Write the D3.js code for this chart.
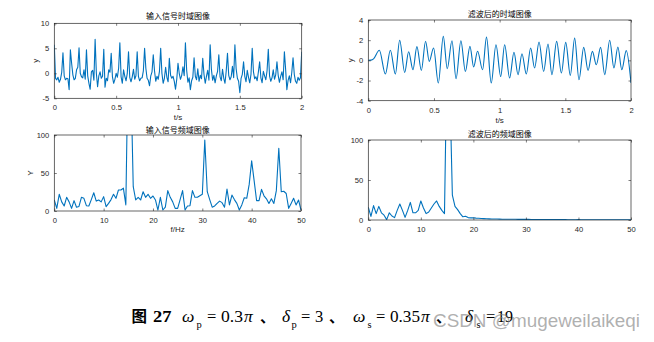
<!DOCTYPE html>
<html>
<head>
<meta charset="utf-8">
<script src="https://cdn.jsdelivr.net/npm/d3@7"></script>
<style>
  html, body { margin: 0; padding: 0; background: #fff; }
  svg { display: block; }
</style>
</head>
<body>
<svg id="fig" width="654" height="342"></svg>
<script>
// ---- data -----------------------------------------------------------------
// input signal, sampled at 100 Hz over 0..2 s (201 samples)
const inputSignal = [
  5.7, -1.0, -1.3, -0.8, -1.8, -1.2, 0.2, 4.1, -0.5, -1.3,
  -1.0, -1.1, -3.3, 4.7, 2.0, -0.3, -1.3, -1.0, 0.7, 1.2,
  5.1, 0.0, -0.7, -0.9, 0.7, -1.2, 4.7, -0.5, -2.0, -3.2,
  0.3, 0.6, -1.4, 6.8, 0.0, -2.7, -0.5, 0.3, -1.0, -0.6,
  4.8, -2.8, -1.0, -1.5, 0.7, 0.2, 4.0, -0.7, -2.0, -1.2,
  0.0, -0.8, 1.0, 6.1, -0.7, -2.0, 0.7, -0.6, -1.5, 0.0,
  4.3, -0.8, -1.7, -0.7, 0.8, -1.2, -0.5, 4.3, -0.6, -1.5,
  -1.0, -0.9, 0.5, 5.0, 1.0, -1.0, -1.4, -2.5, -0.5, 0.3,
  3.7, 0.5, -1.6, -0.6, -1.2, 0.4, 5.0, 0.0, -2.0, -1.0,
  1.2, -0.8, -1.7, 3.0, -0.4, -1.0, -0.6, -1.6, -3.2, -1.2,
  2.0, 0.0, -1.2, -0.4, 1.3, -0.5, 6.1, 0.6, -1.8, -0.9,
  -3.3, -1.5, -0.8, 3.1, -0.6, -1.3, 0.9, -1.6, -0.4, -1.1,
  3.0, -0.2, -2.0, -0.6, 0.6, -1.4, 5.7, 0.8, -1.4, -0.4,
  -1.9, -0.5, 0.4, 3.7, -0.7, -1.5, 0.8, -1.0, -2.0, 0.5,
  4.0, -0.4, -1.3, -0.7, 1.4, -0.9, 5.7, 0.9, -1.0, -1.6,
  -3.9, -1.0, -0.2, 2.3, -0.6, -1.7, 0.6, -0.8, -1.9, -0.2,
  5.0, 0.3, -1.1, -0.7, -1.5, 0.3, 2.3, -0.9, -1.9, 0.4,
  -0.5, -1.3, 0.5, 4.8, -0.5, -1.6, -0.9, 0.7, -1.2, -0.3,
  2.3, -0.4, -1.8, -0.6, 0.3, -1.3, 4.3, 0.8, -3.3, -1.4,
  -0.5, -1.9, 0.2, 3.1, -0.2, -1.6, -2.0, -0.8, -1.4, -0.9,
  4.3
];

// filtered signal: turning points (time in s, amplitude)
const filteredTime = [
  0, 0.02, 0.04, 0.084, 0.13, 0.168, 0.206, 0.239, 0.277, 0.307,
  0.34, 0.37, 0.404, 0.436, 0.464, 0.497, 0.533, 0.571, 0.601, 0.637,
  0.668, 0.705, 0.739, 0.774, 0.802, 0.832, 0.87, 0.9, 0.936, 0.972,
  1.008, 1.038, 1.076, 1.109, 1.14, 1.17, 1.203, 1.236, 1.266, 1.3,
  1.335, 1.368, 1.398, 1.434, 1.47, 1.503, 1.538, 1.571, 1.604, 1.64,
  1.673, 1.706, 1.736, 1.769, 1.8, 1.838, 1.87, 1.9, 1.93, 1.964,
  2.0
];
const filteredSignal = [
  0, 0.02, 0.15, 1.0, -1.36, 1.0, -1.36, 2.0, -1.2, 0.86,
  -0.93, 1.36, -1.0, 1.9, -0.1, 1.22, -2.25, 2.38, -0.83, 1.95,
  -1.82, 1.95, -1.1, 1.39, -0.66, 0.9, -0.93, 2.3, -2.25, 1.55,
  -1.6, 1.55, -1.75, 0.8, -1.42, 0.66, -1.36, 1.22, -0.76, 1.82,
  -1.1, 1.62, -1.42, 1.88, -1.26, 1.78, -1.49, 2.2, -1.92, 1.29,
  -1.0, 0.89, -0.43, 1.29, -1.42, 2.0, -0.76, 1.32, -0.93, 0.96,
  -2.25
];

// magnitude spectra on a 0.5 Hz grid, 0..50 Hz (101 bins)
const inputSpectrum = [
  14.5, 3.5, 22, 12, 6.6, 18, 12, 3.5, 13.6, 5,
  6, 18, 16.7, 7, 6.6, 15, 24, 13, 14.5, 12,
  18.9, 5.7, 10, 15, 22, 16.7, 27.6, 27.6, 30, 8,
  220, 180, 32, 14.5, 18, 14.5, 25.4, 18, 22, 16.7,
  19.7, 14.5, 1.3, 18, 1.3, 5, 26.8, 18, 12, 3.5,
  3.5, 15, 26.8, 1.3, 6.6, 7, 26.8, 18, 18, 20,
  22, 93.4, 25.4, 15, 5, 6.6, 10, 13, 11, 5,
  29, 8, 21, 15, 10, 1.3, 8, 17.5, 16.7, 35,
  66, 40, 13.6, 13.6, 28.5, 20, 16, 10, 16, 10,
  26.8, 82.5, 25.4, 26, 23, 3.5, 10, 16.7, 8, 14.5,
  1.3
];
const filteredSpectrum = [
  16, 4.5, 18, 8, 17, 9, 6, 0.5, 9, 5,
  3, 12, 20, 12, 3.3, 12, 22, 9, 9, 12,
  23.8, 15, 8, 10, 15, 20, 23.8, 17, 12, 8,
  220, 170, 31, 17, 13, 8, 4, 4.6, 3, 2.6,
  2.8, 2.3, 2.1, 1.8, 1.7, 1.5, 1.4, 1.3, 1.2, 1.2,
  1.1, 1.0, 1.0, 0.95, 0.9, 0.9, 0.85, 0.8, 0.8, 0.75,
  0.8, 0.9, 0.7, 0.65, 0.6, 0.6, 0.6, 0.55, 0.55, 0.5,
  0.55, 0.5, 0.5, 0.45, 0.45, 0.45, 0.4, 0.4, 0.4, 0.4,
  0.45, 0.4, 0.35, 0.35, 0.35, 0.35, 0.3, 0.3, 0.3, 0.3,
  0.3, 0.35, 0.3, 0.3, 0.3, 0.25, 0.25, 0.25, 0.25, 0.25,
  0.25
];

const timeTicks = [0, 0.5, 1, 1.5, 2];
const freqTicks = [0, 10, 20, 30, 40, 50];
const inputTimeYTicks = [-5, 0, 5, 10];
const filteredTimeYTicks = [-4, -2, 0, 2, 4];
const spectrumYTicks = [0, 50, 100];

const titles = ["输入信号时域图像", "滤波后的时域图像", "输入信号频域图像", "滤波后的频域图像"];

// ---- drawing --------------------------------------------------------------
const svg = d3.select("#fig");
svg.append("rect").attr("width", 654).attr("height", 342).attr("fill", "#fff");

const AXIS = "#262626";
const LINE = "#0072BD";
const SANS = "'Liberation Sans', Arial, Helvetica, sans-serif";
const CJK = "'Noto Sans CJK SC', 'Noto Sans', sans-serif";

let clipId = 0;
function panel(o) {
  const x = d3.scaleLinear().domain(o.xDomain).range([o.box[0], o.box[1]]);
  const y = d3.scaleLinear().domain(o.yDomain).range([o.box[3], o.box[2]]);
  const g = svg.append("g");
  const id = "clip" + (clipId++);
  svg.append("clipPath").attr("id", id).append("rect")
    .attr("x", o.box[0]).attr("y", o.box[2])
    .attr("width", o.box[1] - o.box[0]).attr("height", o.box[3] - o.box[2]);

  g.append("path")
    .datum(o.points)
    .attr("clip-path", `url(#${id})`)
    .attr("fill", "none")
    .attr("stroke", LINE)
    .attr("stroke-width", 1.1)
    .attr("stroke-linejoin", "round")
    .attr("d", d3.line().x(d => x(d[0])).y(d => y(d[1])).curve(o.curve || d3.curveLinear));

  const fmt = v => String(v);
  const styleAxis = sel => {
    sel.select(".domain").remove();
    sel.selectAll(".tick line").attr("stroke", AXIS).attr("stroke-width", 0.6);
    sel.selectAll("text").attr("fill", AXIS).attr("font-family", SANS).attr("font-size", 7.6);
  };
  g.append("g").attr("transform", `translate(0,${o.box[3]})`)
    .call(d3.axisBottom(x).tickValues(o.xTicks).tickFormat(fmt).tickSizeInner(-2.5).tickSizeOuter(0).tickPadding(6.5))
    .call(styleAxis);
  g.append("g").attr("transform", `translate(0,${o.box[2]})`)
    .call(d3.axisTop(x).tickValues(o.xTicks).tickFormat("").tickSizeInner(-2.5).tickSizeOuter(0))
    .call(styleAxis);
  g.append("g").attr("transform", `translate(${o.box[0]},0)`)
    .call(d3.axisLeft(y).tickValues(o.yTicks).tickFormat(fmt).tickSizeInner(-2.5).tickSizeOuter(0).tickPadding(5))
    .call(styleAxis);
  g.append("g").attr("transform", `translate(${o.box[1]},0)`)
    .call(d3.axisRight(y).tickValues(o.yTicks).tickFormat("").tickSizeInner(-2.5).tickSizeOuter(0))
    .call(styleAxis);

  g.append("rect")
    .attr("x", o.box[0]).attr("y", o.box[2])
    .attr("width", o.box[1] - o.box[0]).attr("height", o.box[3] - o.box[2])
    .attr("fill", "none").attr("stroke", AXIS).attr("stroke-width", 0.7);

  const cx = (o.box[0] + o.box[1]) / 2;
  g.append("text").text(o.title)
    .attr("x", cx).attr("y", o.titleY)
    .attr("text-anchor", "middle").attr("dominant-baseline", "central")
    .attr("font-family", CJK).attr("font-size", 8).attr("fill", "#000");
  if (o.xLabel) {
    g.append("text").text(o.xLabel)
      .attr("x", cx).attr("y", o.xLabelY)
      .attr("text-anchor", "middle").attr("dominant-baseline", "central")
      .attr("font-family", SANS).attr("font-size", 8).attr("fill", AXIS);
  }
  if (o.yLabel) {
    g.append("text").text(o.yLabel)
      .attr("transform", `translate(${o.yLabelX},${(o.box[2] + o.box[3]) / 2}) rotate(-90)`)
      .attr("text-anchor", "middle").attr("dominant-baseline", "central")
      .attr("font-family", SANS).attr("font-size", 8).attr("fill", AXIS);
  }
}

const tInput = inputSignal.map((v, i) => [i / 100, v]);
const fGrid = inputSpectrum.map((v, i) => i * 0.5);

panel({
  box: [54.3, 301.7, 23.3, 98.3],
  xDomain: [0, 2], yDomain: [-5, 10],
  xTicks: timeTicks, yTicks: inputTimeYTicks,
  points: tInput,
  title: titles[0], titleY: 15.6,
  xLabel: "t/s", xLabelY: 117.7,
  yLabel: "y", yLabelX: 35.8
});

panel({
  box: [368.3, 631, 20, 100.7],
  xDomain: [0, 2], yDomain: [-4, 4],
  xTicks: timeTicks, yTicks: filteredTimeYTicks,
  points: d3.zip(filteredTime, filteredSignal),
  curve: d3.curveMonotoneX,
  title: titles[1], titleY: 13.4,
  xLabel: "t/s", xLabelY: 120.3,
  yLabel: "y", yLabelX: 350.5
});

panel({
  box: [54.3, 301, 135, 211],
  xDomain: [0, 50], yDomain: [0, 100],
  xTicks: freqTicks, yTicks: spectrumYTicks,
  points: d3.zip(fGrid, inputSpectrum),
  title: titles[2], titleY: 129.3,
  xLabel: "f/Hz", xLabelY: 229.7,
  yLabel: "Y", yLabelX: 30
});

panel({
  box: [368.3, 631, 140, 220],
  xDomain: [0, 50], yDomain: [0, 100],
  xTicks: freqTicks, yTicks: spectrumYTicks,
  points: d3.zip(fGrid, filteredSpectrum),
  title: titles[3], titleY: 133.7
});

// ---- caption --------------------------------------------------------------
const SERIF = "'Liberation Serif', 'Times New Roman', serif";
const cap = svg.append("g").attr("fill", "#000");
const base = 322;
// each token: text, x, font, size, optional weight / italic / width / baseline shift
const pieces = [
  { t: "图", x: 131.5, f: CJK, w: 700, s: 15.5 },
  { t: "27", x: 153, f: SERIF, w: 700, s: 16.5, len: 18.5 },
  { t: "ω", x: 182, f: SERIF, s: 17.5, i: true },
  { t: "p", x: 196.5, f: SERIF, s: 10.5, dy: 6 },
  { t: "=", x: 207, f: SERIF, s: 16.5 },
  { t: "0.3", x: 221, f: SERIF, s: 16.5, len: 22 },
  { t: "π", x: 244, f: SERIF, s: 17.5, i: true },
  { t: "、", x: 260, f: CJK, w: 700, s: 15 },
  { t: "δ", x: 282, f: SERIF, s: 17.5, i: true },
  { t: "p", x: 291.5, f: SERIF, s: 10.5, dy: 6 },
  { t: "=", x: 301, f: SERIF, s: 16.5 },
  { t: "3", x: 315, f: SERIF, s: 16.5 },
  { t: "、", x: 329, f: CJK, w: 700, s: 15 },
  { t: "ω", x: 353, f: SERIF, s: 17.5, i: true },
  { t: "s", x: 367.5, f: SERIF, s: 10.5, dy: 6 },
  { t: "=", x: 376, f: SERIF, s: 16.5 },
  { t: "0.35", x: 390, f: SERIF, s: 16.5, len: 30 },
  { t: "π", x: 421, f: SERIF, s: 17.5, i: true },
  { t: "、", x: 436, f: CJK, w: 700, s: 15 },
  { t: "δ", x: 465, f: SERIF, s: 17.5, i: true },
  { t: "s", x: 476.5, f: SERIF, s: 10.5, dy: 6 },
  { t: "=", x: 486, f: SERIF, s: 16.5 },
  { t: "19", x: 497, f: SERIF, s: 16.5, len: 16 }
];
pieces.forEach(p => {
  const el = cap.append("text").text(p.t)
    .attr("x", p.x).attr("y", base + (p.dy || 0))
    .attr("font-family", p.f).attr("font-size", p.s)
    .attr("font-weight", p.w || 400)
    .attr("font-style", p.i ? "italic" : "normal");
  if (p.len) el.attr("textLength", p.len).attr("lengthAdjust", "spacingAndGlyphs");
});

// site watermark over the caption
svg.append("text").text("CSDN @mugeweilaikeqi")
  .attr("x", 433).attr("y", 327)
  .attr("font-family", SANS).attr("font-size", 18)
  .attr("textLength", 207).attr("lengthAdjust", "spacingAndGlyphs")
  .attr("fill", "#7a7a7a").attr("fill-opacity", 0.6);
</script>
</body>
</html>
